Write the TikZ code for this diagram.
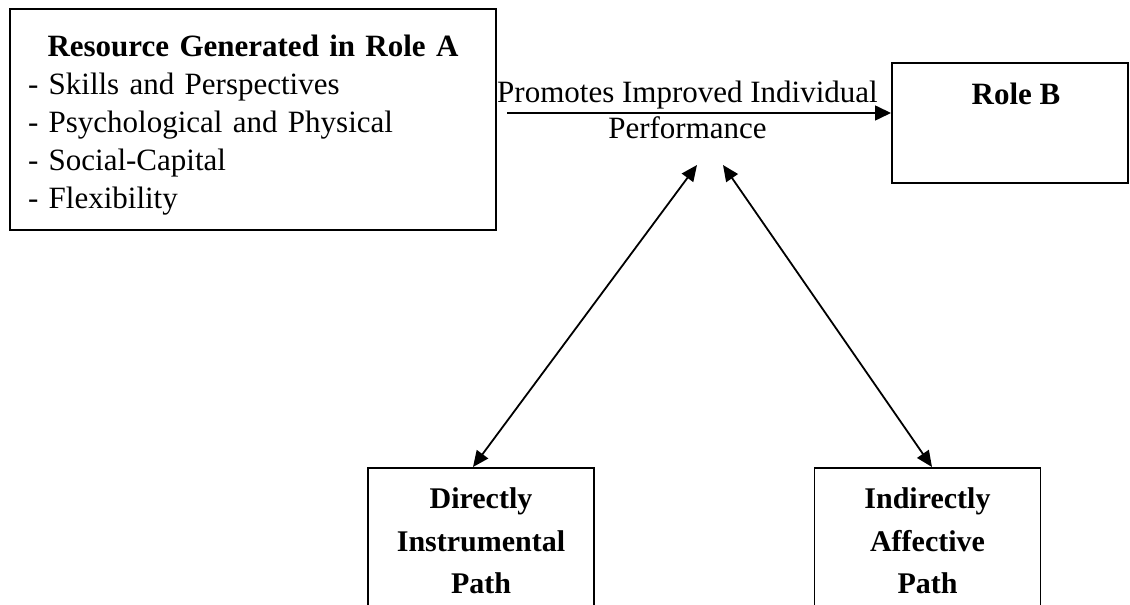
\documentclass[tikz,border=0pt]{standalone}
\usepackage{fontspec}
\setmainfont{Liberation Serif}
\usetikzlibrary{arrows.meta}
\tikzset{
	box/.style={draw, line width=2pt, inner sep=0pt},
	pathbox/.style={draw, line width=1.8pt, minimum width=226pt, inner xsep=0pt, inner ysep=20pt, align=center, font=\fontsize{30}{42.5}\selectfont\bfseries},
	arr/.style={line width=1.6pt, -{Triangle[length=16pt,width=15pt]}},
	twoarr/.style={line width=1.8pt, {Triangle[length=16pt,width=14pt]}-{Triangle[length=16pt,width=14pt]}}
}

\begin{document}
\begin{tikzpicture}[x=1pt, y=1pt, font=\fontsize{31}{38}\selectfont]
		%%%%% START %%%%%
		
		\clip (0, 0) rectangle (1130, 605);
		
		\node[box, minimum width=486pt, minimum height=221pt, text width=450pt, align=left] (resA) at (253, 485.5) {{\centering\bfseries\rule{0pt}{32pt}Resource Generated in Role A\par}- Skills and Perspectives\\- Psychological and Physical\\- Social-Capital\\- Flexibility};
		
		\node[box, minimum width=236pt, minimum height=120pt, label={[anchor=north, inner sep=0pt, font=\fontsize{31}{38}\selectfont\bfseries, xshift=6pt, yshift=-21pt]north:Role B}] (roleB) at (1010, 482) {};
		
		\draw[arr] ([shift={(10pt,6.5pt)}]resA.east) -- node[pos=0.47, above, inner sep=3pt] {Promotes Improved Individual} node[pos=0.47, below, inner sep=3pt] {Performance} ([yshift=10pt]roleB.west);
		
		\node[pathbox, anchor=north] (dirP) at (481, 138) {Directly\\Instrumental\\Path};
		\node[pathbox, anchor=north] (affP) at (927.5, 138) {Indirectly\\Affective\\Path};
		
		\coordinate (perfL) at (697, 440);
		\coordinate (perfR) at (723, 440);
		\draw[twoarr] (perfL) -- ([xshift=-8pt]dirP.north);
		\draw[twoarr] (perfR) -- ([xshift=4.5pt]affP.north);
		
		%%%%% END %%%%%
	\end{tikzpicture}
\end{document}
